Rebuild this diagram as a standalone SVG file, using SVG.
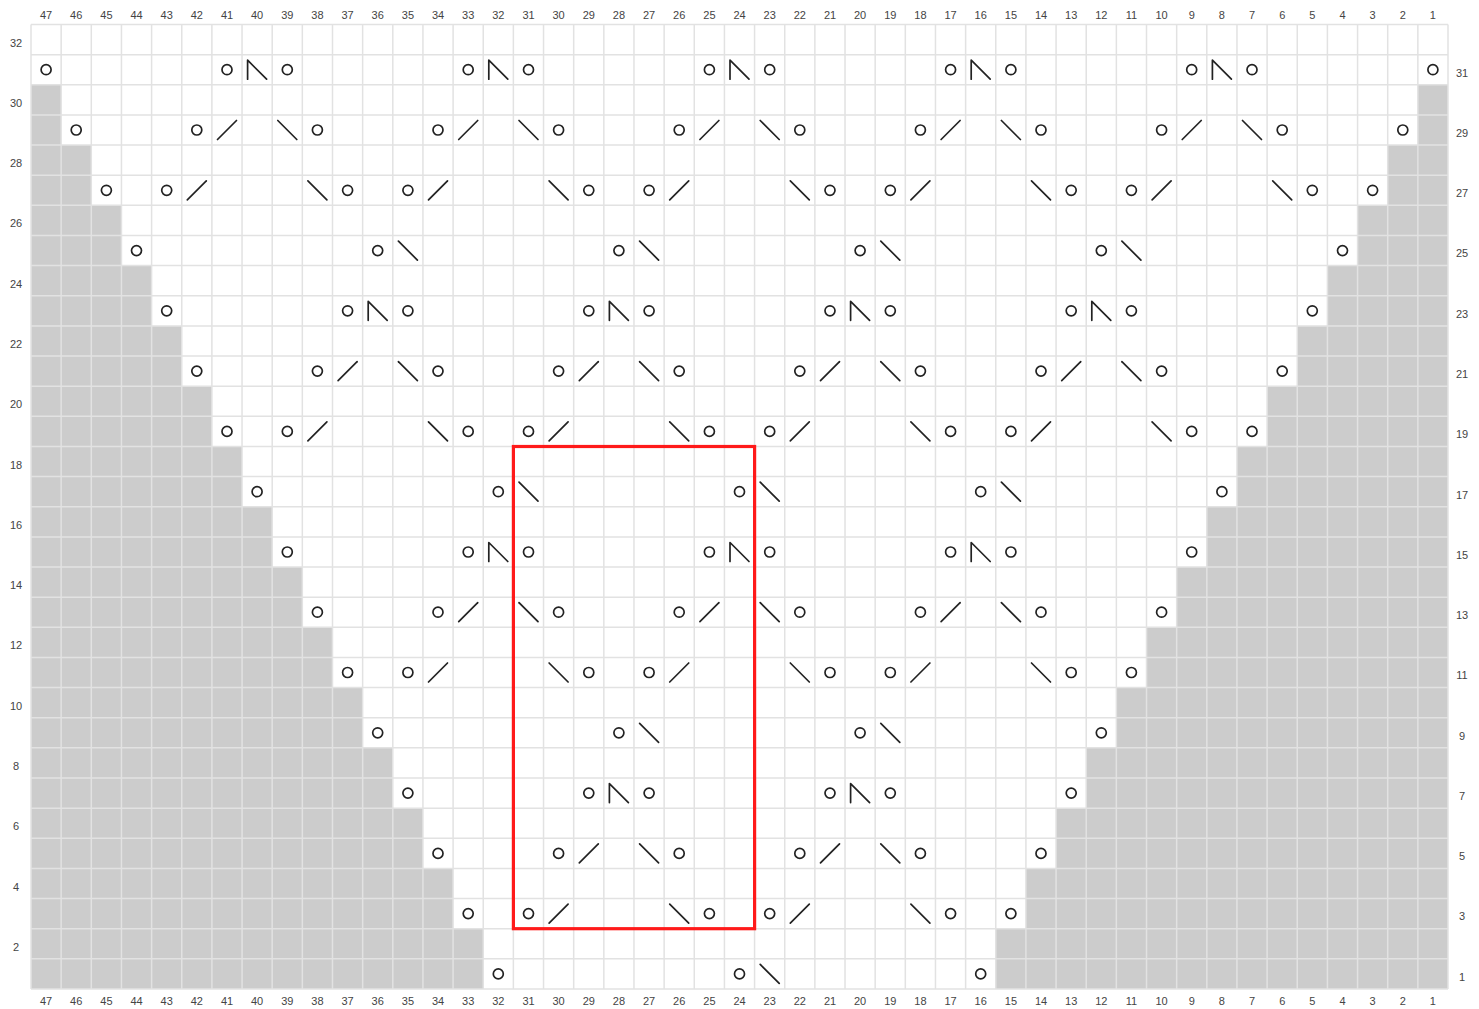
<svg xmlns="http://www.w3.org/2000/svg" xmlns:xlink="http://www.w3.org/1999/xlink" width="1479" height="1009" viewBox="0 0 1479 1009">
<style>
.lbl{font-family:"Liberation Sans",Arial,sans-serif;font-size:11px;fill:#444;text-anchor:middle}
.sym{fill:none;stroke:#222;stroke-width:1.7;stroke-linecap:round;stroke-linejoin:round}
.gray{fill:#cccccc}
.grid{fill:none;stroke:#e2e2e2;stroke-width:1.5}
</style>
<defs>
<g id="o"><circle class="sym" cx="0" cy="0" r="5"/></g>
<g id="k"><path class="sym" d="M-9.5,9.5L9.5,-9.5"/></g>
<g id="s"><path class="sym" d="M-9.5,-9.5L9.5,9.5"/></g>
<g id="c"><path class="sym" d="M-9.5,9.5V-9.5L9.5,9.5"/></g>
</defs>
<rect x="0" y="0" width="1479" height="1009" fill="#fff"/>
<g id="shading">
<rect class="gray" x="31" y="84.78" width="30.15" height="60.28"/>
<rect class="gray" x="31" y="145.06" width="60.3" height="60.28"/>
<rect class="gray" x="31" y="205.34" width="90.45" height="60.28"/>
<rect class="gray" x="31" y="265.62" width="120.6" height="60.28"/>
<rect class="gray" x="31" y="325.9" width="150.75" height="60.28"/>
<rect class="gray" x="31" y="386.18" width="180.89" height="60.28"/>
<rect class="gray" x="31" y="446.46" width="211.04" height="60.28"/>
<rect class="gray" x="31" y="506.74" width="241.19" height="60.28"/>
<rect class="gray" x="31" y="567.02" width="271.34" height="60.28"/>
<rect class="gray" x="31" y="627.3" width="301.49" height="60.28"/>
<rect class="gray" x="31" y="687.58" width="331.64" height="60.28"/>
<rect class="gray" x="31" y="747.86" width="361.79" height="60.28"/>
<rect class="gray" x="31" y="808.14" width="391.94" height="60.28"/>
<rect class="gray" x="31" y="868.42" width="422.09" height="60.28"/>
<rect class="gray" x="31" y="928.7" width="452.24" height="60.3"/>
<rect class="gray" x="1417.85" y="84.78" width="30.15" height="60.28"/>
<rect class="gray" x="1387.7" y="145.06" width="60.3" height="60.28"/>
<rect class="gray" x="1357.55" y="205.34" width="90.45" height="60.28"/>
<rect class="gray" x="1327.4" y="265.62" width="120.6" height="60.28"/>
<rect class="gray" x="1297.25" y="325.9" width="150.75" height="60.28"/>
<rect class="gray" x="1267.11" y="386.18" width="180.89" height="60.28"/>
<rect class="gray" x="1236.96" y="446.46" width="211.04" height="60.28"/>
<rect class="gray" x="1206.81" y="506.74" width="241.19" height="60.28"/>
<rect class="gray" x="1176.66" y="567.02" width="271.34" height="60.28"/>
<rect class="gray" x="1146.51" y="627.3" width="301.49" height="60.28"/>
<rect class="gray" x="1116.36" y="687.58" width="331.64" height="60.28"/>
<rect class="gray" x="1086.21" y="747.86" width="361.79" height="60.28"/>
<rect class="gray" x="1056.06" y="808.14" width="391.94" height="60.28"/>
<rect class="gray" x="1025.91" y="868.42" width="422.09" height="60.28"/>
<rect class="gray" x="995.76" y="928.7" width="452.24" height="60.3"/>
</g>
<g id="grid">
<path class="grid" d="M31,24.5V989M61.15,24.5V989M91.3,24.5V989M121.45,24.5V989M151.6,24.5V989M181.75,24.5V989M211.89,24.5V989M242.04,24.5V989M272.19,24.5V989M302.34,24.5V989M332.49,24.5V989M362.64,24.5V989M392.79,24.5V989M422.94,24.5V989M453.09,24.5V989M483.24,24.5V989M513.38,24.5V989M543.53,24.5V989M573.68,24.5V989M603.83,24.5V989M633.98,24.5V989M664.13,24.5V989M694.28,24.5V989M724.43,24.5V989M754.58,24.5V989M784.73,24.5V989M814.87,24.5V989M845.02,24.5V989M875.17,24.5V989M905.32,24.5V989M935.47,24.5V989M965.62,24.5V989M995.77,24.5V989M1025.92,24.5V989M1056.07,24.5V989M1086.22,24.5V989M1116.36,24.5V989M1146.51,24.5V989M1176.66,24.5V989M1206.81,24.5V989M1236.96,24.5V989M1267.11,24.5V989M1297.26,24.5V989M1327.41,24.5V989M1357.56,24.5V989M1387.71,24.5V989M1417.85,24.5V989M1448,24.5V989"/>
<path class="grid" d="M31,24.5H1448M31,54.64H1448M31,84.78H1448M31,114.92H1448M31,145.06H1448M31,175.2H1448M31,205.34H1448M31,235.48H1448M31,265.62H1448M31,295.76H1448M31,325.9H1448M31,356.04H1448M31,386.18H1448M31,416.32H1448M31,446.46H1448M31,476.6H1448M31,506.74H1448M31,536.88H1448M31,567.02H1448M31,597.16H1448M31,627.3H1448M31,657.44H1448M31,687.58H1448M31,717.72H1448M31,747.86H1448M31,778H1448M31,808.14H1448M31,838.28H1448M31,868.42H1448M31,898.56H1448M31,928.7H1448M31,958.84H1448M31,989H1448"/>
</g>
<g id="col-labels-top" class="lbl">
<text x="46.1" y="19">47</text><text x="76.2" y="19">46</text><text x="106.4" y="19">45</text><text x="136.5" y="19">44</text><text x="166.7" y="19">43</text><text x="196.8" y="19">42</text><text x="227" y="19">41</text><text x="257.1" y="19">40</text><text x="287.3" y="19">39</text><text x="317.4" y="19">38</text><text x="347.6" y="19">37</text><text x="377.7" y="19">36</text><text x="407.9" y="19">35</text><text x="438" y="19">34</text><text x="468.2" y="19">33</text><text x="498.3" y="19">32</text><text x="528.5" y="19">31</text><text x="558.6" y="19">30</text><text x="588.8" y="19">29</text><text x="618.9" y="19">28</text><text x="649.1" y="19">27</text><text x="679.2" y="19">26</text><text x="709.4" y="19">25</text><text x="739.5" y="19">24</text><text x="769.7" y="19">23</text><text x="799.8" y="19">22</text><text x="830" y="19">21</text><text x="860.1" y="19">20</text><text x="890.3" y="19">19</text><text x="920.4" y="19">18</text><text x="950.6" y="19">17</text><text x="980.7" y="19">16</text><text x="1010.9" y="19">15</text><text x="1041" y="19">14</text><text x="1071.2" y="19">13</text><text x="1101.3" y="19">12</text><text x="1131.4" y="19">11</text><text x="1161.6" y="19">10</text><text x="1191.7" y="19">9</text><text x="1221.9" y="19">8</text><text x="1252" y="19">7</text><text x="1282.2" y="19">6</text><text x="1312.3" y="19">5</text><text x="1342.5" y="19">4</text><text x="1372.6" y="19">3</text><text x="1402.8" y="19">2</text><text x="1432.9" y="19">1</text>
</g>
<g id="col-labels-bottom" class="lbl">
<text x="46.1" y="1005">47</text><text x="76.2" y="1005">46</text><text x="106.4" y="1005">45</text><text x="136.5" y="1005">44</text><text x="166.7" y="1005">43</text><text x="196.8" y="1005">42</text><text x="227" y="1005">41</text><text x="257.1" y="1005">40</text><text x="287.3" y="1005">39</text><text x="317.4" y="1005">38</text><text x="347.6" y="1005">37</text><text x="377.7" y="1005">36</text><text x="407.9" y="1005">35</text><text x="438" y="1005">34</text><text x="468.2" y="1005">33</text><text x="498.3" y="1005">32</text><text x="528.5" y="1005">31</text><text x="558.6" y="1005">30</text><text x="588.8" y="1005">29</text><text x="618.9" y="1005">28</text><text x="649.1" y="1005">27</text><text x="679.2" y="1005">26</text><text x="709.4" y="1005">25</text><text x="739.5" y="1005">24</text><text x="769.7" y="1005">23</text><text x="799.8" y="1005">22</text><text x="830" y="1005">21</text><text x="860.1" y="1005">20</text><text x="890.3" y="1005">19</text><text x="920.4" y="1005">18</text><text x="950.6" y="1005">17</text><text x="980.7" y="1005">16</text><text x="1010.9" y="1005">15</text><text x="1041" y="1005">14</text><text x="1071.2" y="1005">13</text><text x="1101.3" y="1005">12</text><text x="1131.4" y="1005">11</text><text x="1161.6" y="1005">10</text><text x="1191.7" y="1005">9</text><text x="1221.9" y="1005">8</text><text x="1252" y="1005">7</text><text x="1282.2" y="1005">6</text><text x="1312.3" y="1005">5</text><text x="1342.5" y="1005">4</text><text x="1372.6" y="1005">3</text><text x="1402.8" y="1005">2</text><text x="1432.9" y="1005">1</text>
</g>
<g id="row-labels" class="lbl">
<text x="16" y="46.6">32</text><text x="16" y="106.9">30</text><text x="16" y="167.1">28</text><text x="16" y="227.4">26</text><text x="16" y="287.7">24</text><text x="16" y="348">22</text><text x="16" y="408.3">20</text><text x="16" y="468.5">18</text><text x="16" y="528.8">16</text><text x="16" y="589.1">14</text><text x="16" y="649.4">12</text><text x="16" y="709.7">10</text><text x="16" y="769.9">8</text><text x="16" y="830.2">6</text><text x="16" y="890.5">4</text><text x="16" y="950.8">2</text>
<text x="1462" y="76.5">31</text><text x="1462" y="136.8">29</text><text x="1462" y="197.1">27</text><text x="1462" y="257.4">25</text><text x="1462" y="317.6">23</text><text x="1462" y="377.9">21</text><text x="1462" y="438.2">19</text><text x="1462" y="498.5">17</text><text x="1462" y="558.8">15</text><text x="1462" y="619">13</text><text x="1462" y="679.3">11</text><text x="1462" y="739.6">9</text><text x="1462" y="799.9">7</text><text x="1462" y="860.2">5</text><text x="1462" y="920.4">3</text><text x="1462" y="980.7">1</text>
</g>
<g id="stitches">
<g id="row31">
<use href="#o" x="46.1" y="69.7"/><use href="#o" x="227" y="69.7"/><use href="#c" x="257.1" y="69.7"/><use href="#o" x="287.3" y="69.7"/><use href="#o" x="468.2" y="69.7"/><use href="#c" x="498.3" y="69.7"/><use href="#o" x="528.5" y="69.7"/><use href="#o" x="709.4" y="69.7"/><use href="#c" x="739.5" y="69.7"/><use href="#o" x="769.7" y="69.7"/><use href="#o" x="950.6" y="69.7"/><use href="#c" x="980.7" y="69.7"/><use href="#o" x="1010.9" y="69.7"/><use href="#o" x="1191.7" y="69.7"/><use href="#c" x="1221.9" y="69.7"/><use href="#o" x="1252" y="69.7"/><use href="#o" x="1432.9" y="69.7"/>
</g>
<g id="row29">
<use href="#o" x="76.2" y="130"/><use href="#o" x="196.8" y="130"/><use href="#k" x="227" y="130"/><use href="#s" x="287.3" y="130"/><use href="#o" x="317.4" y="130"/><use href="#o" x="438" y="130"/><use href="#k" x="468.2" y="130"/><use href="#s" x="528.5" y="130"/><use href="#o" x="558.6" y="130"/><use href="#o" x="679.2" y="130"/><use href="#k" x="709.4" y="130"/><use href="#s" x="769.7" y="130"/><use href="#o" x="799.8" y="130"/><use href="#o" x="920.4" y="130"/><use href="#k" x="950.6" y="130"/><use href="#s" x="1010.9" y="130"/><use href="#o" x="1041" y="130"/><use href="#o" x="1161.6" y="130"/><use href="#k" x="1191.7" y="130"/><use href="#s" x="1252" y="130"/><use href="#o" x="1282.2" y="130"/><use href="#o" x="1402.8" y="130"/>
</g>
<g id="row27">
<use href="#o" x="106.4" y="190.3"/><use href="#o" x="166.7" y="190.3"/><use href="#k" x="196.8" y="190.3"/><use href="#s" x="317.4" y="190.3"/><use href="#o" x="347.6" y="190.3"/><use href="#o" x="407.9" y="190.3"/><use href="#k" x="438" y="190.3"/><use href="#s" x="558.6" y="190.3"/><use href="#o" x="588.8" y="190.3"/><use href="#o" x="649.1" y="190.3"/><use href="#k" x="679.2" y="190.3"/><use href="#s" x="799.8" y="190.3"/><use href="#o" x="830" y="190.3"/><use href="#o" x="890.3" y="190.3"/><use href="#k" x="920.4" y="190.3"/><use href="#s" x="1041" y="190.3"/><use href="#o" x="1071.2" y="190.3"/><use href="#o" x="1131.4" y="190.3"/><use href="#k" x="1161.6" y="190.3"/><use href="#s" x="1282.2" y="190.3"/><use href="#o" x="1312.3" y="190.3"/><use href="#o" x="1372.6" y="190.3"/>
</g>
<g id="row25">
<use href="#o" x="136.5" y="250.6"/><use href="#o" x="377.7" y="250.6"/><use href="#s" x="407.9" y="250.6"/><use href="#o" x="618.9" y="250.6"/><use href="#s" x="649.1" y="250.6"/><use href="#o" x="860.1" y="250.6"/><use href="#s" x="890.3" y="250.6"/><use href="#o" x="1101.3" y="250.6"/><use href="#s" x="1131.4" y="250.6"/><use href="#o" x="1342.5" y="250.6"/>
</g>
<g id="row23">
<use href="#o" x="166.7" y="310.8"/><use href="#o" x="347.6" y="310.8"/><use href="#c" x="377.7" y="310.8"/><use href="#o" x="407.9" y="310.8"/><use href="#o" x="588.8" y="310.8"/><use href="#c" x="618.9" y="310.8"/><use href="#o" x="649.1" y="310.8"/><use href="#o" x="830" y="310.8"/><use href="#c" x="860.1" y="310.8"/><use href="#o" x="890.3" y="310.8"/><use href="#o" x="1071.2" y="310.8"/><use href="#c" x="1101.3" y="310.8"/><use href="#o" x="1131.4" y="310.8"/><use href="#o" x="1312.3" y="310.8"/>
</g>
<g id="row21">
<use href="#o" x="196.8" y="371.1"/><use href="#o" x="317.4" y="371.1"/><use href="#k" x="347.6" y="371.1"/><use href="#s" x="407.9" y="371.1"/><use href="#o" x="438" y="371.1"/><use href="#o" x="558.6" y="371.1"/><use href="#k" x="588.8" y="371.1"/><use href="#s" x="649.1" y="371.1"/><use href="#o" x="679.2" y="371.1"/><use href="#o" x="799.8" y="371.1"/><use href="#k" x="830" y="371.1"/><use href="#s" x="890.3" y="371.1"/><use href="#o" x="920.4" y="371.1"/><use href="#o" x="1041" y="371.1"/><use href="#k" x="1071.2" y="371.1"/><use href="#s" x="1131.4" y="371.1"/><use href="#o" x="1161.6" y="371.1"/><use href="#o" x="1282.2" y="371.1"/>
</g>
<g id="row19">
<use href="#o" x="227" y="431.4"/><use href="#o" x="287.3" y="431.4"/><use href="#k" x="317.4" y="431.4"/><use href="#s" x="438" y="431.4"/><use href="#o" x="468.2" y="431.4"/><use href="#o" x="528.5" y="431.4"/><use href="#k" x="558.6" y="431.4"/><use href="#s" x="679.2" y="431.4"/><use href="#o" x="709.4" y="431.4"/><use href="#o" x="769.7" y="431.4"/><use href="#k" x="799.8" y="431.4"/><use href="#s" x="920.4" y="431.4"/><use href="#o" x="950.6" y="431.4"/><use href="#o" x="1010.9" y="431.4"/><use href="#k" x="1041" y="431.4"/><use href="#s" x="1161.6" y="431.4"/><use href="#o" x="1191.7" y="431.4"/><use href="#o" x="1252" y="431.4"/>
</g>
<g id="row17">
<use href="#o" x="257.1" y="491.7"/><use href="#o" x="498.3" y="491.7"/><use href="#s" x="528.5" y="491.7"/><use href="#o" x="739.5" y="491.7"/><use href="#s" x="769.7" y="491.7"/><use href="#o" x="980.7" y="491.7"/><use href="#s" x="1010.9" y="491.7"/><use href="#o" x="1221.9" y="491.7"/>
</g>
<g id="row15">
<use href="#o" x="287.3" y="552"/><use href="#o" x="468.2" y="552"/><use href="#c" x="498.3" y="552"/><use href="#o" x="528.5" y="552"/><use href="#o" x="709.4" y="552"/><use href="#c" x="739.5" y="552"/><use href="#o" x="769.7" y="552"/><use href="#o" x="950.6" y="552"/><use href="#c" x="980.7" y="552"/><use href="#o" x="1010.9" y="552"/><use href="#o" x="1191.7" y="552"/>
</g>
<g id="row13">
<use href="#o" x="317.4" y="612.2"/><use href="#o" x="438" y="612.2"/><use href="#k" x="468.2" y="612.2"/><use href="#s" x="528.5" y="612.2"/><use href="#o" x="558.6" y="612.2"/><use href="#o" x="679.2" y="612.2"/><use href="#k" x="709.4" y="612.2"/><use href="#s" x="769.7" y="612.2"/><use href="#o" x="799.8" y="612.2"/><use href="#o" x="920.4" y="612.2"/><use href="#k" x="950.6" y="612.2"/><use href="#s" x="1010.9" y="612.2"/><use href="#o" x="1041" y="612.2"/><use href="#o" x="1161.6" y="612.2"/>
</g>
<g id="row11">
<use href="#o" x="347.6" y="672.5"/><use href="#o" x="407.9" y="672.5"/><use href="#k" x="438" y="672.5"/><use href="#s" x="558.6" y="672.5"/><use href="#o" x="588.8" y="672.5"/><use href="#o" x="649.1" y="672.5"/><use href="#k" x="679.2" y="672.5"/><use href="#s" x="799.8" y="672.5"/><use href="#o" x="830" y="672.5"/><use href="#o" x="890.3" y="672.5"/><use href="#k" x="920.4" y="672.5"/><use href="#s" x="1041" y="672.5"/><use href="#o" x="1071.2" y="672.5"/><use href="#o" x="1131.4" y="672.5"/>
</g>
<g id="row9">
<use href="#o" x="377.7" y="732.8"/><use href="#o" x="618.9" y="732.8"/><use href="#s" x="649.1" y="732.8"/><use href="#o" x="860.1" y="732.8"/><use href="#s" x="890.3" y="732.8"/><use href="#o" x="1101.3" y="732.8"/>
</g>
<g id="row7">
<use href="#o" x="407.9" y="793.1"/><use href="#o" x="588.8" y="793.1"/><use href="#c" x="618.9" y="793.1"/><use href="#o" x="649.1" y="793.1"/><use href="#o" x="830" y="793.1"/><use href="#c" x="860.1" y="793.1"/><use href="#o" x="890.3" y="793.1"/><use href="#o" x="1071.2" y="793.1"/>
</g>
<g id="row5">
<use href="#o" x="438" y="853.4"/><use href="#o" x="558.6" y="853.4"/><use href="#k" x="588.8" y="853.4"/><use href="#s" x="649.1" y="853.4"/><use href="#o" x="679.2" y="853.4"/><use href="#o" x="799.8" y="853.4"/><use href="#k" x="830" y="853.4"/><use href="#s" x="890.3" y="853.4"/><use href="#o" x="920.4" y="853.4"/><use href="#o" x="1041" y="853.4"/>
</g>
<g id="row3">
<use href="#o" x="468.2" y="913.6"/><use href="#o" x="528.5" y="913.6"/><use href="#k" x="558.6" y="913.6"/><use href="#s" x="679.2" y="913.6"/><use href="#o" x="709.4" y="913.6"/><use href="#o" x="769.7" y="913.6"/><use href="#k" x="799.8" y="913.6"/><use href="#s" x="920.4" y="913.6"/><use href="#o" x="950.6" y="913.6"/><use href="#o" x="1010.9" y="913.6"/>
</g>
<g id="row1">
<use href="#o" x="498.3" y="973.9"/><use href="#o" x="739.5" y="973.9"/><use href="#s" x="769.7" y="973.9"/><use href="#o" x="980.7" y="973.9"/>
</g>
</g>
<g id="highlight">
<rect x="513.4" y="446.5" width="241.2" height="482.2" fill="none" stroke="#ff1a1a" stroke-width="3.2"/>
</g>
</svg>
